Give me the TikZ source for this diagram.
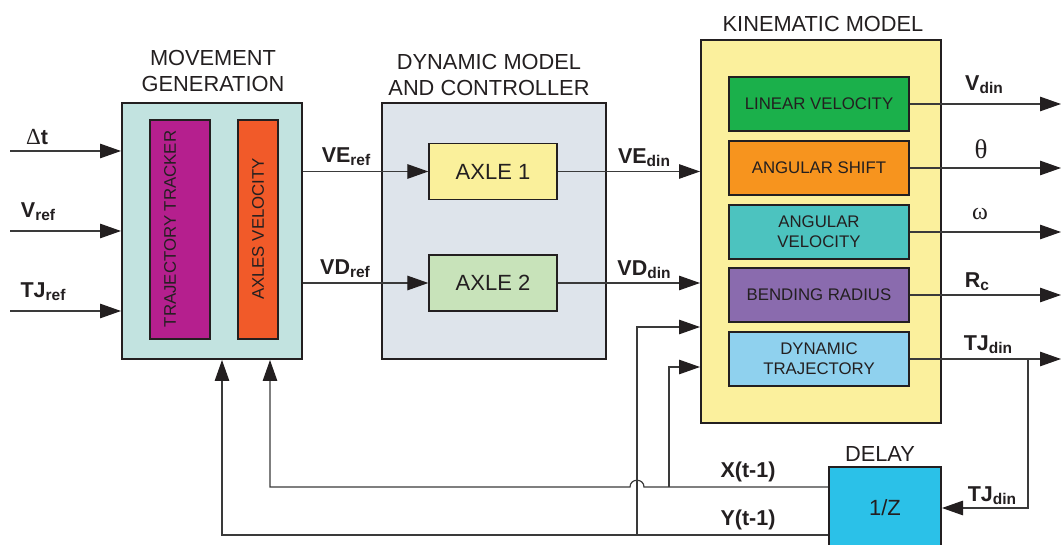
\documentclass[tikz,border=0pt]{standalone}
\usepackage{fontspec}
\setmainfont{Liberation Sans}
\newfontfamily\symfont{Liberation Serif}
\usetikzlibrary{arrows.meta}

\definecolor{ink}{HTML}{231F20}
\definecolor{wirec}{HTML}{3A3A3A}
\definecolor{mgfill}{HTML}{C2E3E0}
\definecolor{ttfill}{HTML}{B51F8E}
\definecolor{avfill}{HTML}{F15A29}
\definecolor{dmfill}{HTML}{DEE4EB}
\definecolor{axafill}{HTML}{FAF09B}
\definecolor{axbfill}{HTML}{C8E3BA}
\definecolor{kmfill}{HTML}{FBF09D}
\definecolor{lvfill}{HTML}{1BB04B}
\definecolor{asfill}{HTML}{F7941E}
\definecolor{akfill}{HTML}{4CC3BF}
\definecolor{brfill}{HTML}{8A6BAE}
\definecolor{dtfill}{HTML}{8FD1EE}
\definecolor{dlfill}{HTML}{2BC1E8}

% subscript used in the signal labels
\newcommand\sigsub[1]{\raisebox{-3pt}{\fontsize{15.5}{16}\selectfont #1}}

\begin{document}
\begin{tikzpicture}[x=1pt,y=-1pt,
  font=\fontsize{16.8}{20}\selectfont,
  box/.style={draw=ink, inner sep=0pt, align=center, text=ink},
  outerbox/.style={box, line width=2pt},
  innerbox/.style={box, line width=1.3pt},
  title/.style={align=center, text=ink, inner sep=0pt, font=\fontsize{21.8}{26}\selectfont},
  lbl/.style={text=ink, inner sep=0pt, font=\fontsize{21.5}{26}\selectfont\bfseries},
  greek/.style={text=ink, inner sep=0pt, font=\fontsize{24}{26}\selectfont\symfont},
  wire/.style={draw=wirec, line width=1.2pt},
  arr/.style={wire, -{Triangle[length=21pt,width=14.5pt,fill=ink,color=ink]}}]

\useasboundingbox (0,0) rectangle (1061,545);

% ---- movement generation ----
\node[title] (mgtitle) at (213,70.5) {MOVEMENT\\GENERATION};
\node[outerbox, fill=mgfill, minimum width=180pt, minimum height=256pt] (mg) at (212,231) {};
\node[innerbox, fill=ttfill, minimum width=60pt, minimum height=219pt] (tt) at (180,229.5) {};
\node[innerbox, fill=avfill, minimum width=40pt, minimum height=219pt] (av) at (258,229.5) {};
\node[rotate=90, text=ink, inner sep=0pt] (tttext) at (170,229) {TRAJECTORY TRACKER};
\node[rotate=90, text=ink, inner sep=0pt] (avtext) at (258,229) {AXLES VELOCITY};

% ---- dynamic model and controller ----
\node[title] (dmtitle) at (489,74.5) {DYNAMIC MODEL\\AND CONTROLLER};
\node[outerbox, fill=dmfill, minimum width=224pt, minimum height=256pt] (dm) at (494,231) {};
\node[innerbox, fill=axafill, minimum width=128pt, minimum height=56pt,
      font=\fontsize{22}{26}\selectfont] (axa) at (493,171.5) {AXLE 1};
\node[innerbox, fill=axbfill, minimum width=128pt, minimum height=56pt,
      font=\fontsize{22}{26}\selectfont] (axb) at (493,283) {AXLE 2};

% ---- kinematic model ----
\node[title] (kmtitle) at (823,23.5) {KINEMATIC MODEL};
\node[outerbox, fill=kmfill, minimum width=240pt, minimum height=383pt] (km) at (821,231.5) {};
\node[innerbox, fill=lvfill, minimum width=180pt, minimum height=54pt] (lv) at (819,104) {LINEAR VELOCITY};
\node[innerbox, fill=asfill, minimum width=180pt, minimum height=54pt] (as) at (819,168) {ANGULAR SHIFT};
\node[innerbox, fill=akfill, minimum width=180pt, minimum height=54pt] (ak) at (819,232) {ANGULAR\\VELOCITY};
\node[innerbox, fill=brfill, minimum width=180pt, minimum height=54pt] (br) at (819,295) {BENDING RADIUS};
\node[innerbox, fill=dtfill, minimum width=180pt, minimum height=54pt] (dt) at (819,359) {DYNAMIC\\TRAJECTORY};

% ---- delay ----
\node[title] (dltitle) at (880,454.5) {DELAY};
\node[outerbox, fill=dlfill, minimum width=112pt, minimum height=82pt,
      font=\fontsize{22}{26}\selectfont] (dl) at (885,508) {1/Z};

% ---- reference inputs ----
\coordinate (ina) at (10,151);
\coordinate (inb) at (10,231);
\coordinate (inc) at (10,311);
\draw[arr] (ina) -- (ina -| mg.west);
\draw[arr] (inb) -- (inb -| mg.west);
\draw[arr] (inc) -- (inc -| mg.west);
\node[lbl] (ldt) at (37,137.5) {{\symfont\mdseries\fontsize{23}{26}\selectfont Δ}t};
\node[lbl] (lvref) at (38,212) {V\sigsub{ref}};
\node[lbl] (ltjref) at (43,292) {TJ\sigsub{ref}};

% ---- axle references and dynamic outputs ----
\draw[arr] (mg.east |- axa) -- (axa.west);
\draw[arr] (mg.east |- axb) -- (axb.west);
\draw[arr] (axa.east) -- (axa.east -| km.west);
\draw[arr] (axb.east) -- (axb.east -| km.west);
\node[lbl] (lveref) at (346,157) {VE\sigsub{ref}};
\node[lbl] (lvdref) at (345,269) {VD\sigsub{ref}};
\node[lbl] (lvedin) at (644,158) {VE\sigsub{din}};
\node[lbl] (lvddin) at (644,270) {VD\sigsub{din}};

% ---- kinematic outputs ----
\coordinate (rim) at (1061,0);
\draw[arr] (lv.east) -- (lv.east -| rim);
\draw[arr] (as.east) -- (as.east -| rim);
\draw[arr] (ak.east) -- (ak.east -| rim);
\draw[arr] (br.east) -- (br.east -| rim);
\draw[arr] (dt.east) -- (dt.east -| rim);
\node[lbl] (lvdin) at (984,85) {V\sigsub{din}};
\node[greek, font=\fontsize{27}{28}\selectfont\symfont] (ltheta) at (981,149) {θ};
\node[greek] (lomega) at (980,213.5) {ω};
\node[lbl] (lrc) at (977,282) {R\sigsub{c}};
\node[lbl] (ltjdin) at (988,345) {TJ\sigsub{din}};

% ---- trajectory fed back through the delay ----
\coordinate (tjb) at (1028,359);
\draw[arr] (tjb) |- (dl.east);
\node[lbl] (ltjback) at (992,496) {TJ\sigsub{din}};

\coordinate (xc) at (270,487);
\coordinate (yc) at (222,535);
\coordinate (xb) at (669,487);
\coordinate (yb) at (637,535);
\draw[arr] (dl.west |- xc) -- (644,487) .. controls (644,478) and (630,478) .. (630,487)
  -- (xc) -- (xc |- mg.south);
\draw[arr] (dl.west |- yc) -- (yc) -- (yc |- mg.south);
\draw[arr] (yb) |- (km.west |- 0,327);
\draw[arr] (xb) |- (km.west |- 0,367);
\node[lbl] (lx) at (748,472) {X(t-1)};
\node[lbl] (ly) at (748,520) {Y(t-1)};

\end{tikzpicture}
\end{document}
